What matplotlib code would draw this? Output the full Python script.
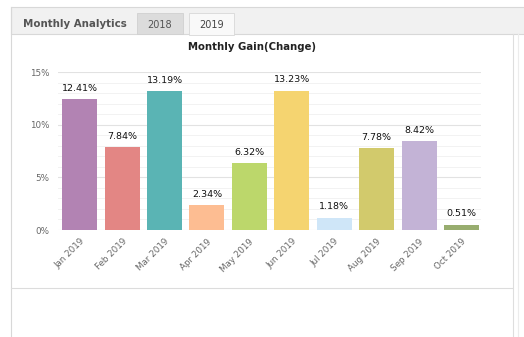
import matplotlib.pyplot as plt
from matplotlib.patches import Rectangle
from matplotlib.ticker import MultipleLocator

months = ["Jan 2019", "Feb 2019", "Mar 2019", "Apr 2019", "May 2019",
          "Jun 2019", "Jul 2019", "Aug 2019", "Sep 2019", "Oct 2019"]
gains = [12.41, 7.84, 13.19, 2.34, 6.32, 13.23, 1.18, 7.78, 8.42, 0.51]
bar_colors = ["#b283b3", "#e38684", "#5ab4b4", "#fdbd92", "#bcd76b",
              "#f5d470", "#cfe6f8", "#d2ca6c", "#c3b3d6", "#98ad6f"]
tabs = ["2018", "2019"]

W, H = 524, 337
fig = plt.figure(figsize=(W / 100, H / 100), dpi=100)
fig.patch.set_facecolor("white")

# page chrome (pixel coords, origin top-left)
bg = fig.add_axes([0, 0, 1, 1])
bg.set_xlim(0, W)
bg.set_ylim(H, 0)
bg.axis("off")
bg.add_patch(Rectangle((11, 7), 530, 27, facecolor="#f1f1f1", edgecolor="#d8d8d8", lw=0.8))
bg.plot([11, 11], [7, 337], color="#d8d8d8", lw=0.8)
bg.plot([512.5, 512.5], [34, 337], color="#dedede", lw=0.8)
bg.plot([517.5, 517.5], [34, 337], color="#ececec", lw=0.8)
bg.plot([11, 512], [288, 288], color="#dcdcdc", lw=0.8)
bg.text(23, 24, "Monthly Analytics", fontsize=7.4, fontweight="bold", color="#555555", va="center")
bg.add_patch(Rectangle((137, 13), 46, 21, facecolor="#dcdcdc", edgecolor="#d0d0d0", lw=0.6))
bg.add_patch(Rectangle((189, 13), 45, 22, facecolor="#f9f9f9", edgecolor="#d8d8d8", lw=0.6))
bg.text(160, 24.5, tabs[0], fontsize=7, color="#555555", ha="center", va="center")
bg.text(211.5, 24.5, tabs[1], fontsize=7, color="#444444", ha="center", va="center")
bg.text(252, 47, "Monthly Gain(Change)", fontsize=7.3, fontweight="bold", color="#222222",
        ha="center", va="center")

ax = fig.add_axes([58 / W, (H - 230) / H, (481 - 58) / W, 158 / H])
x = range(len(months))
bars = ax.bar(x, gains, width=0.825, color=bar_colors, zorder=3)
for b, v in zip(bars, gains):
    ax.text(b.get_x() + b.get_width() / 2, v + 0.6, f"{v:.2f}%", ha="center", va="bottom",
            fontsize=6.8, color="#111111", zorder=4)

ax.set_xlim(-0.51, 9.46)
ax.set_ylim(0, 15)
ax.yaxis.set_major_locator(MultipleLocator(5))
ax.yaxis.set_minor_locator(MultipleLocator(1))
ax.set_yticklabels([f"{int(t)}%" for t in ax.get_yticks()])
ax.grid(axis="y", which="major", color="#e2e2e2", lw=0.8, zorder=0)
ax.grid(axis="y", which="minor", color="#f2f2f2", lw=0.7, zorder=0)
ax.set_xticks(list(x))
ax.set_xticklabels(months, rotation=45, ha="right", rotation_mode="anchor")
ax.tick_params(axis="both", length=0, labelsize=6.3, labelcolor="#666666")
ax.tick_params(axis="x", pad=5)
ax.tick_params(axis="y", pad=6)
ax.tick_params(axis="y", which="minor", length=0)
for s in ax.spines.values():
    s.set_visible(False)
ax.set_facecolor("none")

fig.savefig("out.png", dpi=100)
